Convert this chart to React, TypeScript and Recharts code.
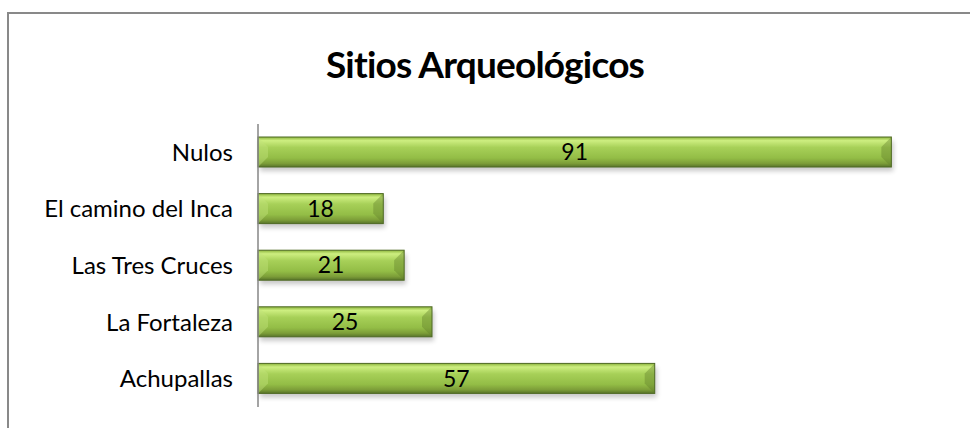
import { Bar, BarChart, LabelList, XAxis, YAxis } from "recharts";

const sites = ["Nulos", "El camino del Inca", "Las Tres Cruces", "La Fortaleza", "Achupallas"];
const counts = [91, 18, 21, 25, 57];

const rows = sites.map((site, i) => ({ site, count: counts[i] }));

const FONT = "Lato, 'Open Sans', sans-serif";

function BevelBar(props: any) {
    const { x, y, width, height } = props;
    if (!width || width <= 0) return null;
    const b = Math.min(10, width / 2, height / 2);
    return (
        <g>
            <rect x={x + 2} y={y + 4} width={width} height={height} fill="#000" opacity={0.22} filter="url(#barShadow)" />
            <rect x={x} y={y} width={width} height={height} fill="url(#barFill)" />
            <polygon
                points={`${x},${y} ${x + b},${y + b} ${x + b},${y + height - b} ${x},${y + height}`}
                fill="#c2e27a"
                opacity={0.45}
            />
            <polygon
                points={`${x + width},${y} ${x + width - b},${y + b} ${x + width - b},${y + height - b} ${x + width},${y + height}`}
                fill="#62802a"
                opacity={0.4}
            />
            <rect x={x} y={y} width={width} height={height} fill="none" stroke="#4f6a24" strokeWidth={1} />
        </g>
    );
}

export default function App() {
    return (
        <div style={{ position: "absolute", left: 0, top: 0, width: 970, height: 428, overflow: "hidden", background: "#fff" }}>
            {/* chart frame: only top and left edges fall inside the picture */}
            <div style={{ position: "absolute", left: 7, top: 12, width: 963, height: 2, background: "#898989" }} />
            <div style={{ position: "absolute", left: 7, top: 12, width: 2, height: 416, background: "#898989" }} />
            <div
                style={{
                    position: "absolute",
                    left: 0,
                    top: 41,
                    width: 970,
                    textAlign: "center",
                    fontFamily: FONT,
                    fontWeight: 700,
                    fontSize: 37,
                    letterSpacing: -0.8,
                    fontVariantLigatures: "none",
                    color: "#000",
                }}
            >
                Sitios Arqueológicos
            </div>
            <div style={{ position: "absolute", left: 0, top: 0 }}>
                <BarChart
                    width={970}
                    height={428}
                    data={rows}
                    layout="vertical"
                    margin={{ top: 124, right: 16, bottom: 21, left: 0 }}
                >
                    <defs>
                        <linearGradient id="barFill" x1="0" y1="0" x2="0" y2="1">
                            <stop offset="0" stopColor="#8cb43c" />
                            <stop offset="0.12" stopColor="#cdee80" />
                            <stop offset="0.35" stopColor="#a7d058" />
                            <stop offset="0.7" stopColor="#93bd46" />
                            <stop offset="0.88" stopColor="#7c9d38" />
                            <stop offset="1" stopColor="#58742a" />
                        </linearGradient>
                        <filter id="barShadow" x="-5%" y="-30%" width="110%" height="160%">
                            <feGaussianBlur stdDeviation="2.5" />
                        </filter>
                    </defs>
                    <XAxis type="number" domain={[0, 100]} hide />
                    <YAxis
                        type="category"
                        dataKey="site"
                        width={258}
                        tickLine={false}
                        tickSize={0}
                        tickMargin={25}
                        axisLine={{ stroke: "#868686", strokeWidth: 1.5 }}
                        tick={{ fill: "#000", fontSize: 24, fontFamily: FONT }}
                    />
                    <Bar dataKey="count" barSize={30} shape={BevelBar} isAnimationActive={false}>
                        <LabelList dataKey="count" position="center" fill="#000" fontSize={23} fontFamily={FONT} />
                    </Bar>
                </BarChart>
            </div>
        </div>
    );
}
